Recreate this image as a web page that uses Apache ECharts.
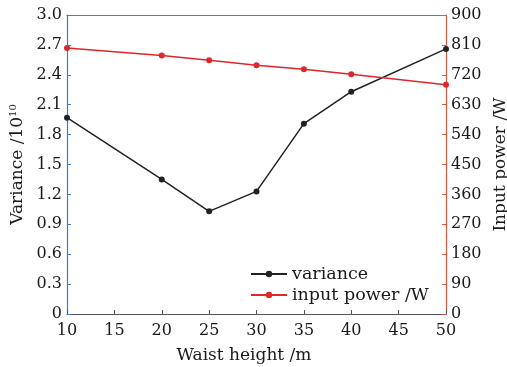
<!DOCTYPE html>
<html><head><meta charset="utf-8">
<script src="https://cdn.jsdelivr.net/npm/echarts@6/dist/echarts.min.js"></script>
<style>html,body{margin:0;padding:0;background:#fff}#c{width:507px;height:367px}</style>
</head><body><div id="c"></div>
<script>
const waistHeight = [10, 20, 25, 30, 35, 40, 50];
const variance = [1.97, 1.35, 1.03, 1.23, 1.91, 2.23, 2.66];
const inputPower = [801, 778, 764, 749, 737, 722, 690];
const seriesNames = ['variance', 'input power /W'];

const font = 'DejaVu Serif';
const fs = 16;
const txt = '#1a1a1a';
const chart = echarts.init(document.getElementById('c'));
chart.setOption({
  animation: false,
  grid: {left: 67, right: 61, top: 15, bottom: 53, containLabel: false, outerBoundsMode: 'none'},
  legend: {
    orient: 'vertical', left: 245, top: 260, itemGap: 3,
    itemWidth: 36, itemHeight: 8,
    textStyle: {fontFamily: font, fontSize: 17.5, color: txt},
    data: seriesNames
  },
  xAxis: [{
    type: 'value', min: 10, max: 50, interval: 5,
    name: 'Waist height /m', nameLocation: 'middle', nameGap: 33,
    nameTextStyle: {fontFamily: font, fontSize: 17, color: txt, padding: [0, 25, 0, 0]},
    axisLine: {lineStyle: {color: '#555', width: 1.2}},
    axisTick: {inside: true, length: 4, lineStyle: {color: '#555'}},
    axisLabel: {fontFamily: font, fontSize: fs, color: txt, margin: 9},
    splitLine: {show: false}
  }, {
    type: 'value', min: 10, max: 50, position: 'top',
    axisLine: {show: true, onZero: false, lineStyle: {color: '#777', width: 1.2}},
    axisTick: {show: false}, axisLabel: {show: false}, splitLine: {show: false}
  }],
  yAxis: [{
    type: 'value', min: 0, max: 3, interval: 0.3,
    name: 'Variance /10{s|10}', nameLocation: 'middle', nameGap: 37,
    nameTextStyle: {fontFamily: font, fontSize: 17, color: txt,
      rich: {s: {fontFamily: font, fontSize: 10, verticalAlign: 'top', color: txt, padding: [0, 0, 8, 0]}}},
    axisLine: {show: true, lineStyle: {color: '#3d7fc1', width: 1.2}},
    axisTick: {show: true, inside: true, length: 4, lineStyle: {color: '#3d7fc1'}},
    axisLabel: {fontFamily: font, fontSize: fs, color: txt, margin: 5,
      formatter: v => v === 0 ? '0' : v.toFixed(1)},
    splitLine: {show: false}
  }, {
    type: 'value', min: 0, max: 900, interval: 90, position: 'right',
    name: 'Input power /W', nameLocation: 'middle', nameGap: 44, nameRotate: 90,
    nameTextStyle: {fontFamily: font, fontSize: 17, color: txt},
    axisLine: {show: true, lineStyle: {color: '#d65a3f', width: 1.2}},
    axisTick: {show: true, inside: true, length: 4, lineStyle: {color: '#d65a3f'}},
    axisLabel: {fontFamily: font, fontSize: fs, color: txt, margin: 5},
    splitLine: {show: false}
  }],
  series: [{
    name: seriesNames[0], type: 'line', xAxisIndex: 0, yAxisIndex: 0,
    data: waistHeight.map((x, i) => [x, variance[i]]),
    symbol: 'circle', symbolSize: 6,
    lineStyle: {color: '#222', width: 1.5}, itemStyle: {color: '#222'}
  }, {
    name: seriesNames[1], type: 'line', xAxisIndex: 0, yAxisIndex: 1,
    data: waistHeight.map((x, i) => [x, inputPower[i]]),
    symbol: 'circle', symbolSize: 6,
    lineStyle: {color: '#e0262b', width: 1.5}, itemStyle: {color: '#e0262b'}
  }]
});
</script></body></html>
